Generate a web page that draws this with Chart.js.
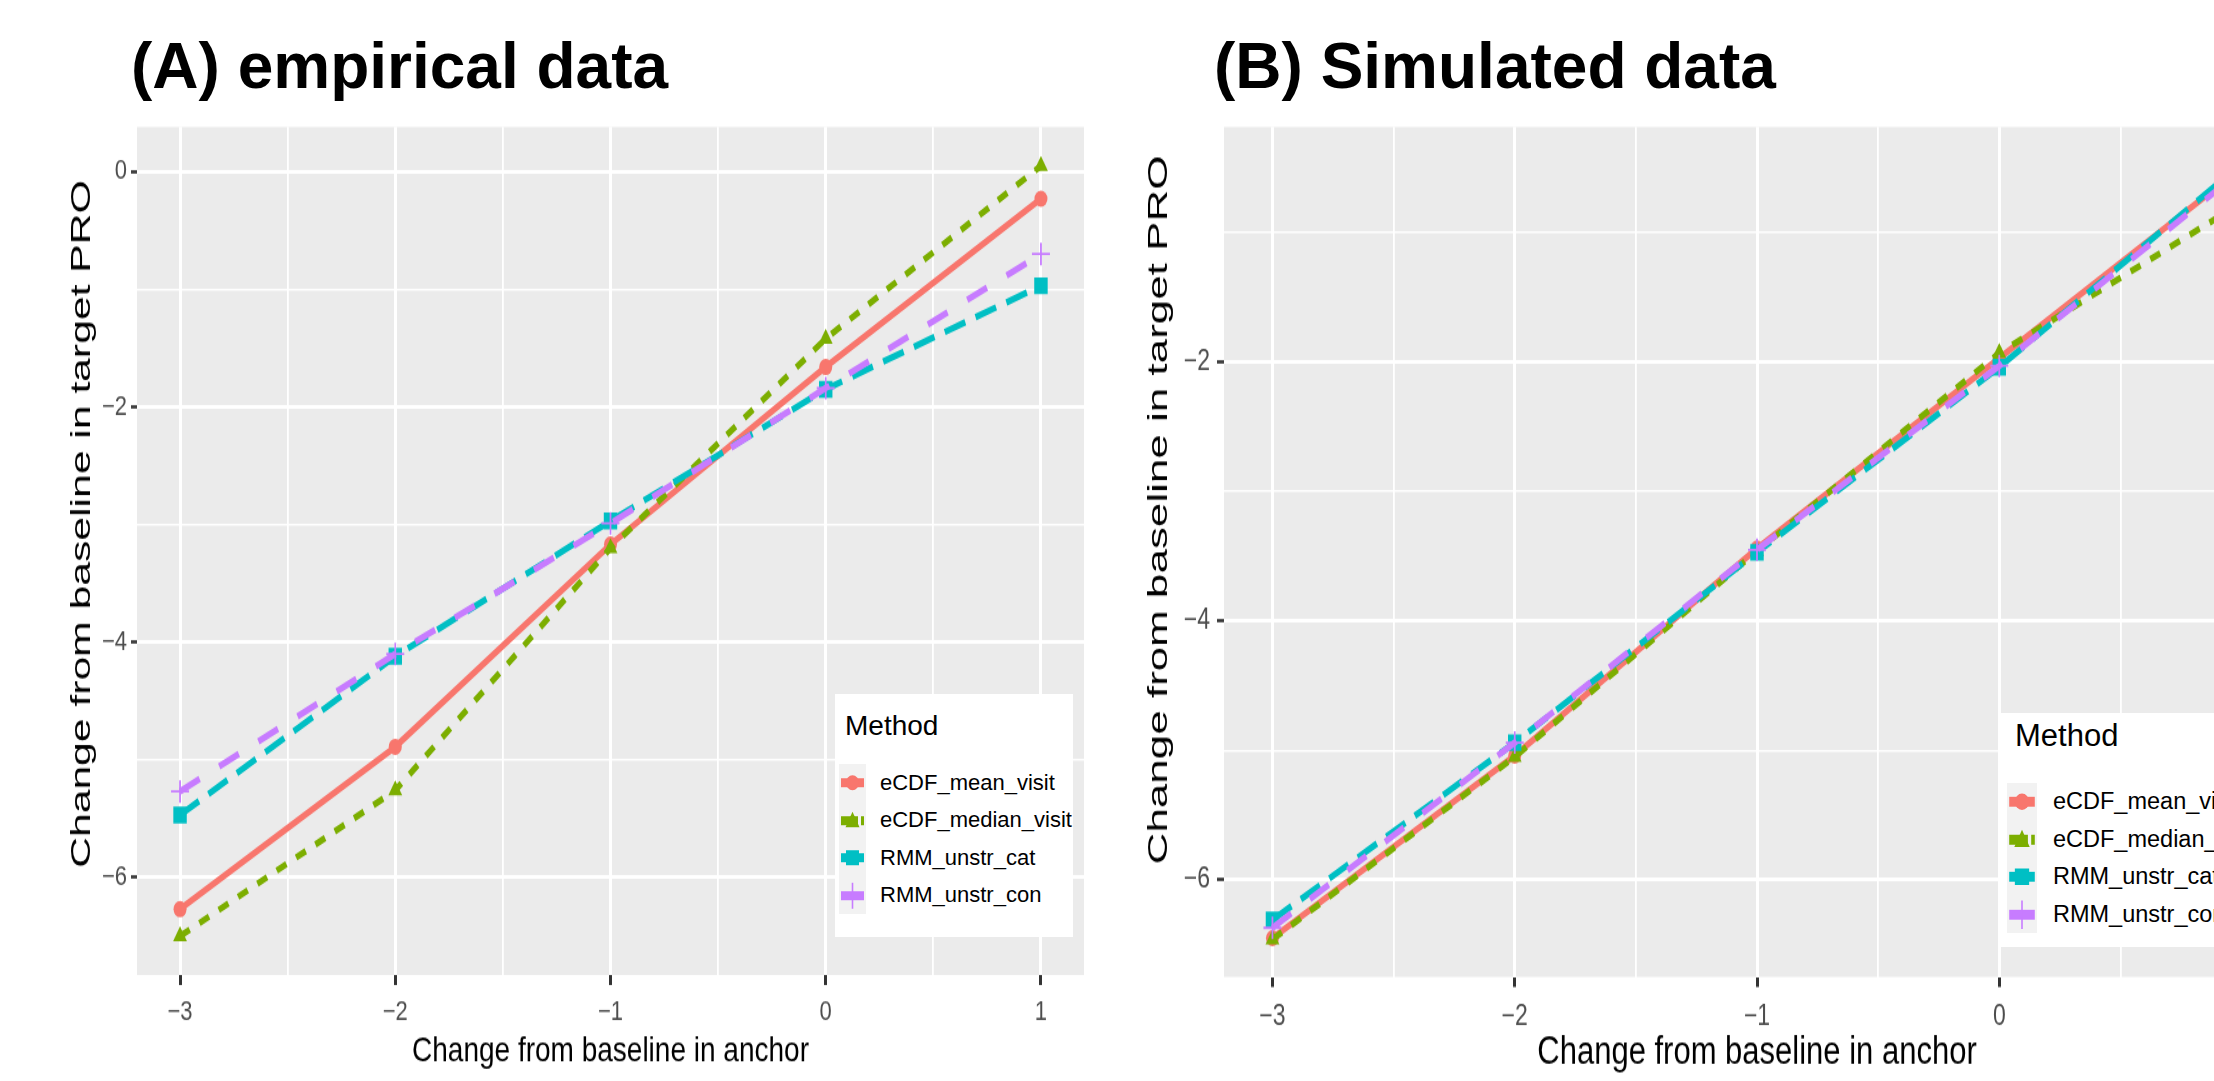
<!DOCTYPE html>
<html>
<head>
<meta charset="utf-8">
<script src="https://cdn.jsdelivr.net/npm/chart.js@4"></script>
<style>
html,body{margin:0;padding:0;background:#fff;}
body{width:2214px;height:1081px;overflow:hidden;position:relative;font-family:"Liberation Sans",Arial,sans-serif;}
.ttl{position:absolute;font-weight:bold;font-size:64px;line-height:64px;color:#000;white-space:nowrap;}
.wrap{position:absolute;top:0;transform:scaleY(1.25);transform-origin:0 0;}
.legend{position:absolute;background:#fff;overflow:visible;}
.legend .lt{position:absolute;white-space:nowrap;color:#000;}
.legend .kc{position:absolute;background:#F2F2F2;}
.legend .lab{position:absolute;white-space:nowrap;color:#000;}
</style>
</head>
<body>
<div class="ttl" style="left:131px;top:34px">(A) empirical data</div>
<div class="ttl" style="left:1214px;top:34px">(B) Simulated data</div>
<div class="wrap" style="left:0px;width:1110px;height:865px"><canvas id="cA" width="1110" height="865"></canvas></div>
<div class="wrap" style="left:1110px;width:1200px;height:865px"><canvas id="cB" width="1200" height="865"></canvas></div>
<div class="legend" id="legA"></div>
<div class="legend" id="legB"></div>
<script>
// ---------- data ----------
const seriesNames = ['eCDF_mean_visit', 'eCDF_median_visit', 'RMM_unstr_cat', 'RMM_unstr_con'];
const xVals = [-3, -2, -1, 0, 1];
const xMajor = [-3, -2, -1, 0, 1];
const xMinor = [-2.5, -1.5, -0.5, 0.5];
const xLabels = ['\u22123', '\u22122', '\u22121', '0', '1'];
const xRange = [-3.2, 1.2];

// Panel A: empirical data
const A_mean   = [-6.27, -4.89, -3.17, -1.66, -0.23];
const A_median = [-6.50, -5.26, -3.20, -1.42,  0.05];
const A_cat    = [-5.47, -4.12, -2.97, -1.85, -0.97];
const A_con    = [-5.27, -4.10, -2.99, -1.84, -0.70];
const A_yMajor  = [-6, -4, -2, 0];
const A_yLabels = ['\u22126', '\u22124', '\u22122', '0'];
const A_yMinor  = [-5, -3, -1];
const A_yRange  = [-6.83, 0.38];

// Panel B: simulated data
const B_mean   = [-6.45, -5.04, -3.44, -1.97, -0.50];
const B_median = [-6.46, -5.05, -3.46, -1.93, -0.77];
const B_cat    = [-6.31, -4.94, -3.47, -2.04, -0.47];
const B_con    = [-6.37, -4.94, -3.45, -2.03, -0.52];
const B_yMajor  = [-6, -4, -2];
const B_yLabels = ['\u22126', '\u22124', '\u22122'];
const B_yMinor  = [-5, -3, -1];
const B_yRange  = [-6.75, -0.185];

const xTitle = 'Change from baseline in anchor';
const yTitle = 'Change from baseline in target PRO';
const legendTitle = 'Method';

// ---------- styles ----------
const FONT = '"Liberation Sans", Arial, sans-serif';
const colors = ['#F8766D', '#7CAE00', '#00BFC4', '#C77CFF'];
const dashes = [[], [11, 11], [22, 11], [22, 22]];
const pStyles = ['circle', 'triangle', 'rect', 'cross'];
const pRadius = [6.5, 8, 9.5, 9];
const pBorderW = [0, 0, 0, 1.8];
const drawOrder = [3, 2, 1, 0];

function makeDatasets(series) {
  return series.map((vals, i) => ({
    label: seriesNames[i],
    data: xVals.map((x, j) => ({x: x, y: vals[j]})),
    borderColor: colors[i],
    backgroundColor: colors[i],
    borderWidth: 5.3,
    borderDash: dashes[i],
    borderCapStyle: 'butt',
    tension: 0,
    fill: false,
    pointStyle: pStyles[i],
    pointRadius: pRadius[i],
    pointBackgroundColor: colors[i],
    pointBorderColor: colors[i],
    pointBorderWidth: pBorderW[i],
    order: drawOrder[i]
  }));
}

function labelFor(v, majors, labels) {
  const k = majors.indexOf(v);
  return k >= 0 ? labels[k] : '';
}

function makeChart(canvasId, series, yMajor, yLabels, yMinor, yRange, cfg) {
  const isMajorX = ctx => ctx.tick && xMajor.indexOf(ctx.tick.value) >= 0;
  const isMajorY = ctx => ctx.tick && yMajor.indexOf(ctx.tick.value) >= 0;
  const panelPlugin = {
    id: 'panel_' + canvasId,
    beforeDraw(chart) {
      const a = chart.chartArea, c = chart.ctx;
      c.save();
      c.fillStyle = '#EBEBEB';
      c.fillRect(a.left, a.top, a.right - a.left, a.bottom - a.top);
      c.restore();
    },
    afterDraw(chart) {
      const c = chart.ctx;
      c.save();
      c.translate(cfg.yTitleX, cfg.yTitleY);
      c.rotate(-Math.PI / 2);
      c.font = cfg.yTitleFont + 'px ' + FONT;
      const w = c.measureText(yTitle).width;
      c.scale(cfg.yTitleLen / w, 1);
      c.textAlign = 'center';
      c.textBaseline = 'middle';
      c.fillStyle = '#000000';
      c.fillText(yTitle, 0, 0);
      c.restore();
    }
  };
  return new Chart(document.getElementById(canvasId), {
    type: 'line',
    data: {datasets: makeDatasets(series)},
    options: {
      responsive: false,
      animation: false,
      events: [],
      layout: {padding: {top: 101.6, right: cfg.padRight, bottom: 0, left: 0}},
      plugins: {legend: {display: false}, tooltip: {enabled: false}, title: {display: false}},
      scales: {
        x: {
          type: 'linear', min: xRange[0], max: xRange[1], bounds: 'data',
          afterBuildTicks: ax => { ax.ticks = xMajor.concat(xMinor).sort((a, b) => a - b).map(v => ({value: v})); },
          afterFit: ax => { ax.height = cfg.xAxisH; },
          ticks: {autoSkip: false, maxRotation: 0, minRotation: 0, padding: cfg.xPad, color: '#4D4D4D',
                  font: {family: FONT, size: cfg.xTickFont},
                  callback: v => labelFor(v, xMajor, xLabels)},
          grid: {color: '#FFFFFF', lineWidth: ctx => isMajorX(ctx) ? 3 : 1.8, drawTicks: true, tickLength: 8,
                 tickColor: ctx => isMajorX(ctx) ? '#333333' : 'rgba(0,0,0,0)', tickWidth: 3},
          border: {display: false},
          title: {display: true, text: xTitle, color: '#000000', font: {family: FONT, size: cfg.xTitleFont},
                  padding: {top: 0, bottom: cfg.xTitlePad}}
        },
        y: {
          type: 'linear', min: yRange[0], max: yRange[1], bounds: 'data',
          afterBuildTicks: ax => { ax.ticks = yMajor.concat(yMinor).sort((a, b) => a - b).map(v => ({value: v})); },
          afterFit: ax => { ax.width = cfg.yAxisW; },
          ticks: {autoSkip: false, padding: cfg.yPad, color: '#4D4D4D',
                  font: {family: FONT, size: cfg.yTickFont},
                  callback: v => labelFor(v, yMajor, yLabels)},
          grid: {color: '#FFFFFF', lineWidth: ctx => isMajorY(ctx) ? 3 : 1.6, drawTicks: true, tickLength: cfg.yTl,
                 tickColor: ctx => isMajorY(ctx) ? '#333333' : 'rgba(0,0,0,0)', tickWidth: 2.6},
          border: {display: false},
          title: {display: false}
        }
      }
    },
    plugins: [panelPlugin]
  });
}

makeChart('cA', [A_mean, A_median, A_cat, A_con], A_yMajor, A_yLabels, A_yMinor, A_yRange, {
  padRight: 26, yAxisW: 137, xAxisH: 85, xPad: 9, xTickFont: 22, xTitleFont: 28, xTitlePad: 6.5,
  yPad: 4, yTl: 6, yTickFont: 22, yTitleX: 82, yTitleY: 419.2, yTitleFont: 28, yTitleLen: 550
});
makeChart('cB', [B_mean, B_median, B_cat, B_con], B_yMajor, B_yLabels, B_yMinor, B_yRange, {
  padRight: 20, yAxisW: 114, xAxisH: 83.4, xPad: 10, xTickFont: 23, xTitleFont: 31, xTitlePad: 4,
  yPad: 7, yTl: 7, yTickFont: 23, yTitleX: 49, yTitleY: 408, yTitleFont: 28, yTitleLen: 567
});

// ---------- legends ----------
const keyDash = ['', '17 3', '', ''];
function keySVG(i, w, h, sc) {
  const c = colors[i], cx = w / 2, cy = h / 2;
  let s = '<svg xmlns="http://www.w3.org/2000/svg" width="' + w + '" height="' + h + '">';
  s += '<line x1="' + (2 * sc) + '" y1="' + cy + '" x2="' + (w - 2 * sc) + '" y2="' + cy + '" stroke="' + c +
       '" stroke-width="' + (9 * sc) + '"' + (keyDash[i] ? ' stroke-dasharray="' + keyDash[i].split(' ').map(v => v * sc).join(' ') + '"' : '') + '/>';
  if (pStyles[i] === 'circle') {
    s += '<ellipse cx="' + cx + '" cy="' + cy + '" rx="' + (6.5 * sc) + '" ry="' + (7.5 * sc) + '" fill="' + c + '"/>';
  } else if (pStyles[i] === 'triangle') {
    s += '<polygon points="' + cx + ',' + (cy - 9 * sc) + ' ' + (cx - 7 * sc) + ',' + (cy + 6.5 * sc) + ' ' + (cx + 7 * sc) + ',' + (cy + 6.5 * sc) + '" fill="' + c + '"/>';
  } else if (pStyles[i] === 'rect') {
    s += '<rect x="' + (cx - 6.5 * sc) + '" y="' + (cy - 7.5 * sc) + '" width="' + (13 * sc) + '" height="' + (15 * sc) + '" fill="' + c + '"/>';
  } else {
    s += '<line x1="' + cx + '" y1="' + (cy - 13 * sc) + '" x2="' + cx + '" y2="' + (cy + 13 * sc) + '" stroke="' + c + '" stroke-width="1.6"/>';
    s += '<line x1="' + (cx - 9 * sc) + '" y1="' + cy + '" x2="' + (cx + 9 * sc) + '" y2="' + cy + '" stroke="' + c + '" stroke-width="1.6"/>';
  }
  return s + '</svg>';
}
function buildLegend(id, L) {
  const el = document.getElementById(id);
  el.style.left = L.left + 'px'; el.style.top = L.top + 'px';
  el.style.width = L.w + 'px'; el.style.height = L.h + 'px';
  let html = '<div class="lt" style="left:' + L.titleLeft + 'px;top:' + L.titleTop + 'px;font-size:' + L.titleFont +
             'px;line-height:' + L.titleFont + 'px">' + legendTitle + '</div>';
  html += '<div class="kc" style="left:' + L.keyLeft + 'px;top:' + L.keyTop + 'px;width:' + L.keyW + 'px;height:' + (L.keyH * seriesNames.length) + 'px"></div>';
  seriesNames.forEach((name, i) => {
    const rc = L.keyTop + L.keyH * (i + 0.5);
    html += '<div style="position:absolute;left:' + L.keyLeft + 'px;top:' + (L.keyTop + L.keyH * i) + 'px;width:' + L.keyW + 'px;height:' + L.keyH + 'px">' +
            keySVG(i, L.keyW, L.keyH, L.sc) + '</div>';
    html += '<div class="lab" style="left:' + L.labLeft + 'px;top:' + (rc - 0.49 * L.labFont) + 'px;font-size:' + L.labFont +
            'px;line-height:' + L.labFont + 'px">' + name + '</div>';
  });
  el.innerHTML = html;
}
buildLegend('legA', {left: 835, top: 694, w: 238, h: 243, titleLeft: 10, titleTop: 17.5, titleFont: 28,
  keyLeft: 4, keyTop: 70, keyW: 27, keyH: 37.5, labLeft: 45, labFont: 22, sc: 1});
buildLegend('legB', {left: 1998, top: 713, w: 300, h: 234, titleLeft: 17, titleTop: 7, titleFont: 31,
  keyLeft: 9, keyTop: 70, keyW: 30, keyH: 37.5, labLeft: 55, labFont: 23.5, sc: 1.1});
</script>
</body>
</html>
